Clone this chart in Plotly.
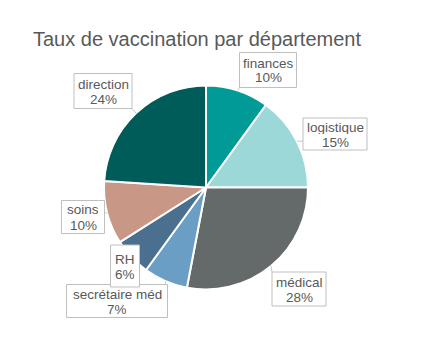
import math
import plotly.graph_objects as go

# ---- data ----
categories = ["finances", "logistique", "médical", "secrétaire méd", "RH", "soins", "direction"]
values = [10, 15, 28, 7, 6, 10, 24]
colors = ["#009B96", "#9CD8D8", "#64696A", "#6B9EC4", "#4B6F8F", "#C99785", "#005C59"]

# ---- layout (pixels) ----
W, H = 430, 359
CX, CY, R = 206, 187.5, 102
# callout box centres and sizes (px)
box_pos = [(268, 70), (335, 134), (299, 289), (117, 301), (125, 266), (83, 217), (103, 91)]
box_size = [(57, 35), (64, 32), (54, 34), (101, 33), (29, 42), (43, 33), (58, 35)]
LINE_GAP = 15
FONT = dict(family="Liberation Sans, Arial, sans-serif", size=13.5, color="#595959")

fig = go.Figure()
fig.add_trace(go.Pie(
    labels=categories, values=values, sort=False, direction="clockwise", rotation=0,
    marker=dict(colors=colors, line=dict(color="white", width=2)),
    textinfo="none", hoverinfo="label+percent", showlegend=False,
    domain=dict(x=[(CX - R) / W, (CX + R) / W], y=[(H - CY - R) / H, (H - CY + R) / H]),
))

total = sum(values)
cum = 0
lines = []
boxes = []
annotations = []
for i, (cat, v) in enumerate(zip(categories, values)):
    mid = (cum + v / 2) / total * 2 * math.pi
    cum += v
    ex, ey = CX + R * math.sin(mid), CY - R * math.cos(mid)
    bx, by = box_pos[i]
    bw, bh = box_size[i]
    nx = min(max(ex, bx - bw / 2), bx + bw / 2)
    ny = min(max(ey, by - bh / 2), by + bh / 2)
    if (nx, ny) != (ex, ey):
        lines.append(dict(type="line", xref="paper", yref="paper",
                          x0=ex / W, y0=1 - ey / H, x1=nx / W, y1=1 - ny / H,
                          line=dict(color="#C8C8C8", width=1)))
    boxes.append(dict(type="rect", xref="paper", yref="paper",
                      x0=(bx - bw / 2) / W, x1=(bx + bw / 2) / W,
                      y0=1 - (by + bh / 2) / H, y1=1 - (by - bh / 2) / H,
                      fillcolor="white", line=dict(color="#BFBFBF", width=1)))
    pct = round(v / total * 100)
    for text, dy in ((cat, -LINE_GAP / 2), (f"{pct}%", LINE_GAP / 2)):
        annotations.append(dict(
            x=bx / W, y=1 - (by + dy) / H, xref="paper", yref="paper",
            xanchor="center", yanchor="middle", text=text, showarrow=False, font=FONT,
            height=LINE_GAP - 1, borderpad=0,
        ))

annotations.append(dict(
    x=31 / W, y=1 - 39 / H, xref="paper", yref="paper", xanchor="left", yanchor="middle",
    text="Taux de vaccination par département", showarrow=False,
    font=dict(family="Liberation Sans, Arial, sans-serif", size=20, color="#595959"),
))

fig.update_layout(
    width=W, height=H, margin=dict(l=0, r=0, t=0, b=0),
    paper_bgcolor="white", plot_bgcolor="white",
    shapes=lines + boxes, annotations=annotations,
)
fig.write_html("out.html")
